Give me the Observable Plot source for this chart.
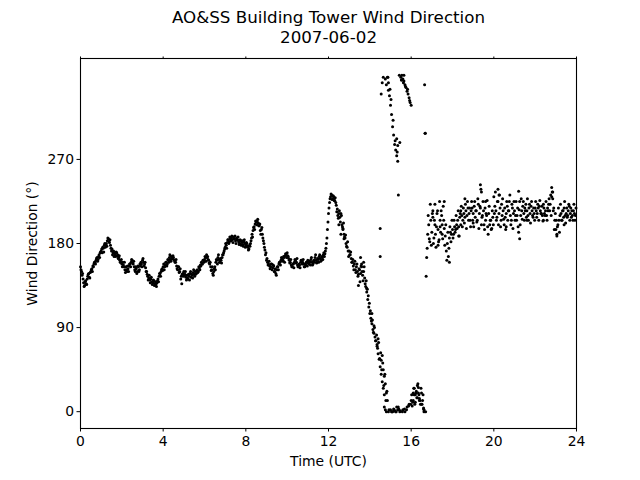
<!DOCTYPE html>
<html>
<head>
<meta charset="utf-8">
<script src="https://cdn.jsdelivr.net/npm/d3@7"></script>
<script src="https://cdn.jsdelivr.net/npm/@observablehq/plot@0.6"></script>
<style>
  html, body { margin: 0; padding: 0; background: #fff; }
  #chart { width: 640px; height: 480px; }
</style>
</head>
<body>
<div id="chart"></div>
<script>
// Chart texts
const titleLine1 = "AO&SS Building Tower Wind Direction";
const titleLine2 = "2007-06-02";
const xLabel = "Time (UTC)";
const yLabel = "Wind Direction (°)";
const xTicks = [0, 4, 8, 12, 16, 20, 24];
const yTicks = [0, 90, 180, 270];

// Sampling: readings every 3 minutes from 00:00 UTC (series A),
// and the readings 1.5 minutes later (series B)
const sampleStartHour = 0;
const sampleStepMinutes = 3;
const seriesBOffsetMinutes = 1.5;

// Series A wind direction (degrees), one row per hour, 20 readings per row
const dir00 = [155,150,148,138,135,140,136,145,148,143,150,153,156,158,160,162,165,163,168,170];
const dir01 = [172,170,175,178,176,180,183,185,181,178,172,168,172,170,166,170,168,165,162,160];
const dir02 = [158,160,155,152,155,150,153,156,158,160,162,158,155,150,153,150,155,152,156,158];
const dir03 = [162,160,158,154,150,145,143,141,142,139,138,140,137,136,138,142,145,148,150,153];
const dir04 = [155,152,157,160,158,162,165,163,166,164,165,162,160,156,152,155,150,142,137,148];
const dir05 = [150,147,144,146,142,145,148,144,146,149,147,150,148,152,150,154,157,160,158,162];
const dir06 = [163,165,168,166,162,158,155,152,148,150,155,160,162,165,163,160,162,165,168,172];
const dir07 = [176,178,181,184,182,185,186,184,187,185,183,186,184,182,180,183,181,179,182,180];
const dir08 = [178,180,176,174,177,183,190,194,198,201,203,204,202,199,194,195,190,183,176,168];
const dir09 = [162,160,158,156,155,158,154,156,150,148,152,155,158,160,162,164,162,165,167,168];
const dir10 = [170,166,162,160,157,155,158,160,162,160,157,155,157,160,162,160,158,155,157,160];
const dir11 = [162,158,160,163,160,158,162,165,162,160,163,166,164,162,165,168,166,172,180,195];
const dir12 = [212,224,230,232,228,230,226,224,214,210,212,208,212,200,196,190,186,180,176,172];
const dir13 = [172,168,164,160,156,158,152,155,150,147,152,148,155,146,150,143,134,128,120,112];
const dir14 = [105,100,94,88,84,80,76,70,62,56,48,40,32,25,18,356,350,358,344,338];
const dir15 = [328,318,305,296,286,280,274,268,3,0,358,360,356,354,350,347,343,340,336,331];
const dir16 = [328,6,12,18,10,22,15,26,14,8,20,12,4,350,0,165,190,200,182,205];
const dir17 = [192,208,186,200,176,212,195,184,205,215,200,220,196,188,172,180,166,186,192,190];
const dir18 = [195,190,198,195,200,205,198,208,200,210,205,212,208,215,210,218,212,205,215,218];
const dir19 = [212,220,208,215,205,222,212,218,200,210,215,195,205,210,198,212,200,205,196,208];
const dir20 = [230,220,215,208,225,212,218,205,210,215,200,208,212,220,215,225,210,205,218,212];
const dir21 = [215,210,205,218,192,185,210,215,220,212,218,222,215,210,218,212,220,215,208,212];
const dir22 = [218,215,212,218,220,215,212,210,205,212,215,210,218,222,215,232,240,228,218,205];
const dir23 = [195,188,200,205,210,212,205,215,218,210,212,208,215,220,212,208,210,215,212,210];

// Series B wind direction (degrees), one row per hour, 20 readings per row
const dirB00 = [152,146,142,134,139,137,142,147,144,149,152,150,155,160,158,164,161,166,165,171];
const dirB01 = [174,176,171,180,179,177,186,182,184,175,174,170,166,168,171,167,164,167,160,163];
const dirB02 = [155,157,160,149,152,156,150,158,155,163,159,161,152,155,148,156,150,158,160,155];
const dirB03 = [164,156,160,150,147,141,146,138,144,136,141,135,139,134,140,139,148,145,152,151];
const dirB04 = [158,155,160,156,163,160,168,161,164,167,162,160,163,153,155,149,153,145,147,145];
const dirB05 = [146,150,141,143,147,141,150,147,143,152,145,147,151,149,155,152,156,158,162,160];
const dirB06 = [166,161,165,163,159,160,151,155,146,153,152,163,158,168,160,164,159,168,170,174];
const dirB07 = [180,175,184,180,187,183,188,181,185,188,180,184,187,179,184,178,183,177,184,176];
const dirB08 = [181,177,173,178,180,186,187,197,195,204,200,206,199,201,190,197,186,180,173,170];
const dirB09 = [164,157,161,153,158,152,157,150,153,146,155,152,160,157,165,161,166,160,169,165];
const dirB10 = [167,164,159,163,155,158,154,163,159,164,155,158,154,162,158,163,155,158,160,156];
const dirB11 = [159,161,157,165,157,161,160,168,159,164,160,168,161,166,163,170,169,175,186,203];
const dirB12 = [218,228,233,227,231,226,229,221,217,207,215,203,210,198,202,187,189,177,182,166];
const dirB13 = [168,171,160,163,152,161,149,158,145,153,139,156,150,140,155,137,140,131,124,116];
const dirB14 = [108,97,98,85,90,76,82,68,74,57,63,45,52,28,40,12,22,358,2,345];
const dirB15 = [334,0,312,2,290,0,278,5,360,1,355,0,352,3,348,2,345,6,333,8];
const dirB16 = [18,10,25,8,20,15,30,18,12,25,8,18,2,298,145,175,210,185,222,178];
const dirB17 = [212,180,205,190,198,215,182,225,192,210,185,205,178,200,162,192,175,198,182,205];
const dirB18 = [186,205,192,210,196,215,188,212,220,198,218,202,222,196,225,205,218,198,225,205];
const dirB19 = [198,225,215,203,228,196,220,238,208,225,200,218,212,226,190,220,205,195,215,200];
const dirB20 = [212,235,205,225,200,232,198,222,228,206,218,195,225,205,215,232,200,222,196,225];
const dirB21 = [205,225,210,198,216,200,228,206,225,205,215,208,228,205,222,202,225,210,218,205];
const dirB22 = [225,208,222,205,226,212,220,204,218,210,225,205,215,228,222,210,235,215,195,212];
const dirB23 = [205,198,218,192,222,205,215,208,225,202,218,210,222,205,218,215,205,222,205,218];

// Additional readings (hour, degrees) where the record is scattered or wraps past north
const extraHours = [14.5,14.5,14.55,14.6,14.65,14.6,14.65,14.7,14.75,14.7,14.75,14.8,14.8,14.85,14.9,14.9,15.0,15.05,15.1,15.15,15.2,15.25,15.3,15.35,15.38,15.45,15.3,15.35,15.6,15.7,15.8,15.9,16.0,16.1,16.15,16.2,16.3,16.35,16.4,16.5,16.6,16.62,16.68,15.55,15.65,14.55,14.4,14.35,14.2,14.1,13.85,13.45,13.6,13.55,13.7,12.5,12.6,12.7,12.75,17.05,17.3,17.5,17.6,17.85,18.4,18.6,19.35,19.4,20.2,20.25,21.2,21.25,22.8,22.85,23.05,17.15,17.4,18.3,19.0,19.6,20.6,21.6,22.4,23.4];
const extraDirs  = [196,166,340,352,358,60,45,5,2,38,30,0,20,12,0,352,2,0,0,3,1,0,5,2,232,288,292,285,2,0,5,8,12,20,25,18,28,20,12,8,3,0,298,355,360,55,78,72,92,105,132,135,158,165,160,200,190,195,185,215,178,190,225,160,215,228,243,235,238,232,236,225,230,235,190,222,198,188,202,225,198,205,222,200];

const rowsA = [dir00,dir01,dir02,dir03,dir04,dir05,dir06,dir07,dir08,dir09,dir10,dir11,dir12,dir13,dir14,dir15,dir16,dir17,dir18,dir19,dir20,dir21,dir22,dir23];
const rowsB = [dirB00,dirB01,dirB02,dirB03,dirB04,dirB05,dirB06,dirB07,dirB08,dirB09,dirB10,dirB11,dirB12,dirB13,dirB14,dirB15,dirB16,dirB17,dirB18,dirB19,dirB20,dirB21,dirB22,dirB23];

const data = [];
rowsA.flat().forEach((v, i) => data.push({t: sampleStartHour + i * sampleStepMinutes / 60, d: v}));
rowsB.flat().forEach((v, i) => data.push({t: sampleStartHour + (i * sampleStepMinutes + seriesBOffsetMinutes) / 60, d: v}));
extraHours.forEach((h, i) => data.push({t: h, d: extraDirs[i]}));

const font = "'DejaVu Sans', sans-serif";

const chart = Plot.plot({
  width: 640,
  height: 480,
  marginLeft: 80,
  marginRight: 64,
  marginTop: 58,
  marginBottom: 52,
  style: {fontFamily: font, fontSize: "13.9px", color: "black", background: "white"},
  x: {domain: [0, 24]},
  y: {domain: [-18, 378]},
  marks: [
    Plot.frame({stroke: "black", strokeWidth: 1.1}),
    Plot.axisX({ticks: xTicks, tickSize: 3.5, tickPadding: 4, tickFormat: d => String(d), label: null, fontSize: 13.9}),
    Plot.axisX({anchor: "top", ticks: xTicks, tickSize: 2.5, tickFormat: () => "", label: null}),
    Plot.axisY({ticks: yTicks, tickSize: 3.5, tickPadding: 3, tickFormat: d => String(d), label: null, fontSize: 13.9}),
    Plot.text([xLabel], {frameAnchor: "bottom", dy: 37, fontSize: 13.9, text: d => d}),
    Plot.text([yLabel], {frameAnchor: "left", dx: -48, rotate: -90, textAnchor: "middle", lineAnchor: "middle", fontSize: 13.9, text: d => d}),
    Plot.text([titleLine1 + "\n" + titleLine2], {frameAnchor: "top", dy: -50, fontSize: 16.7, lineHeight: 1.2, text: d => d}),
    Plot.dot(data, {x: "t", y: "d", r: 1.5, fill: "black", stroke: null})
  ]
});
document.getElementById("chart").appendChild(chart);
</script>
</body>
</html>
